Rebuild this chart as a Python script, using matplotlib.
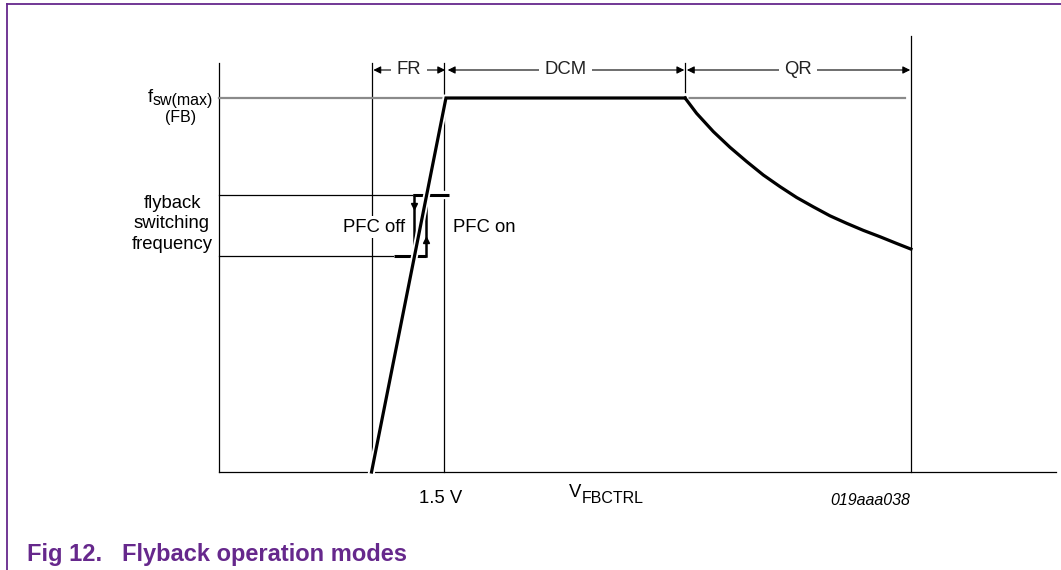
import numpy as np
import matplotlib.pyplot as plt
import matplotlib.patheffects as pe

plt.rcParams['font.family'] = ['Liberation Sans', 'DejaVu Sans']

# operating points (x: V_FBCTRL in V, y: f normalised to f_sw(max))
v_fr = 1.017      # start of frequency reduction
v_15 = 1.5        # 1.5 V marker
v_knee = 1.513    # f reaches f_sw(max)
v_qr = 3.107      # DCM -> QR
v_end = 4.613     # end of QR
v_top = 5.58      # end of x axis
f_max = 1.0
f_hi = 0.741      # PFC off level
f_lo = 0.578      # PFC on level
v_off = 1.30
v_on = 1.377

# QR curve
qr_v = [3.107, 3.184, 3.296, 3.407, 3.518, 3.629, 3.740, 3.851,
        3.962, 4.073, 4.184, 4.296, 4.407, 4.518, 4.613]
qr_f = [1.0, 0.959, 0.910, 0.868, 0.830, 0.794, 0.763, 0.734,
        0.709, 0.685, 0.665, 0.646, 0.629, 0.611, 0.596]

modes = ['FR', 'DCM', 'QR']
mode_edges = [v_fr, v_knee, v_qr, v_end]

purple = '#66288c'
gray = '#8a8a8a'


# pixel -> data helpers for layout
def px(x):
    return (x - 219) / 150.0


def py(y):
    return (472 - y) / 374.0


fig = plt.figure(figsize=(10.61, 5.70), dpi=100)
ax = fig.add_axes([0, 0, 1, 1])
ax.set_xlim(px(0), px(1061))
ax.set_ylim(py(570), py(0))
ax.axis('off')

# frame
ax.plot([px(7), px(1061)], [py(4), py(4)], color=purple, lw=1.3, clip_on=False)
ax.plot([px(7), px(7)], [py(4), py(570)], color=purple, lw=1.3, clip_on=False)

thin = dict(color='black', lw=0.9)
y_axtop = py(63)

# axes
ax.plot([0, 0], [0, y_axtop], **thin)
ax.plot([0, v_top], [0, 0], **thin)

# region boundaries
ax.plot([v_fr, v_fr], [0, y_axtop], **thin)
ax.plot([v_15, v_15], [0, y_axtop], **thin)
ax.plot([v_qr, v_qr], [py(92), y_axtop], **thin)

# f_sw(max) reference
ax.plot([0, v_end - 0.04], [f_max, f_max], color=gray, lw=1.6)

# hysteresis levels
ax.plot([0, v_off], [f_hi, f_hi], **thin)
ax.plot([0, px(394)], [f_lo, f_lo], **thin)

halo = [pe.Stroke(linewidth=6, foreground='white'), pe.Normal()]
thick = dict(color='black', lw=2.2, solid_capstyle='butt', path_effects=halo)

ax.plot([v_off - 0.007, v_15 + 0.033], [f_hi, f_hi], **thick)
ax.plot([px(394), v_on + 0.005], [f_lo, f_lo], **thick)
ax.plot([v_off, v_off], [f_hi, f_lo], color='black', lw=1.8)
ax.plot([v_on, v_on], [f_lo, f_hi], color='black', lw=1.8)
ax.plot([v_off], [py(206)], marker='v', ms=5, color='black')
ax.plot([v_on], [py(240)], marker='^', ms=5, color='black')

# main characteristic: FR ramp + DCM plateau (with halo), then QR curve
ax.plot([v_fr, v_knee, v_qr], [0, f_max, f_max], color='black', lw=2.3,
        solid_joinstyle='miter',
        path_effects=[pe.Stroke(linewidth=5, foreground='white'), pe.Normal()])
ax.plot(qr_v, qr_f, color='black', lw=2.3)

# right boundary on top of the curve end
ax.plot([v_end, v_end], [0, py(36)], **thin)

# mode dimension arrows
y_dim = py(70)
for name, a, b in zip(modes, mode_edges[:-1], mode_edges[1:]):
    ax.annotate('', xy=(a + 0.012, y_dim), xytext=(b - 0.005, y_dim),
                arrowprops=dict(arrowstyle='<|-|>', color='black', lw=0.8,
                                mutation_scale=11, shrinkA=0, shrinkB=0))
    ax.text((a + b) / 2, y_dim, name, fontsize=13.3, ha='center', va='center',
            color='#222222',
            bbox=dict(facecolor='white', edgecolor='none', pad=4))

fs = 13.3
fsub = 11.5

ax.text(px(153), py(102), 'f', fontsize=fs, ha='right', va='baseline')
ax.text(px(213), py(105), 'sw(max)', fontsize=fsub, ha='right', va='baseline')
ax.text(px(181), py(122), '(FB)', fontsize=fsub, ha='center', va='baseline')

ax.text(px(172), py(224), 'flyback\nswitching\nfrequency', fontsize=fs,
        ha='center', va='center', multialignment='center', linespacing=1.3)

ax.text(px(405), py(227), 'PFC off', fontsize=fs, ha='right', va='center',
        bbox=dict(facecolor='white', edgecolor='none', pad=1.5))
ax.text(px(453), py(227), 'PFC on', fontsize=fs, ha='left', va='center')

ax.text(px(441), py(503), '1.5 V', fontsize=fs, ha='center', va='baseline')
ax.text(px(569), py(497), 'V', fontsize=fs, ha='left', va='baseline')
ax.text(px(581.5), py(503), 'FBCTRL', fontsize=fsub, ha='left', va='baseline')
ax.text(px(910), py(505), '019aaa038', fontsize=fsub, style='italic',
        ha='right', va='baseline')

ax.text(px(27), py(561), 'Fig 12.', fontsize=17, fontweight='bold',
        color=purple, ha='left', va='baseline')
ax.text(px(122), py(561), 'Flyback operation modes', fontsize=17,
        fontweight='bold', color=purple, ha='left', va='baseline')

fig.savefig('out.png', dpi=100)
